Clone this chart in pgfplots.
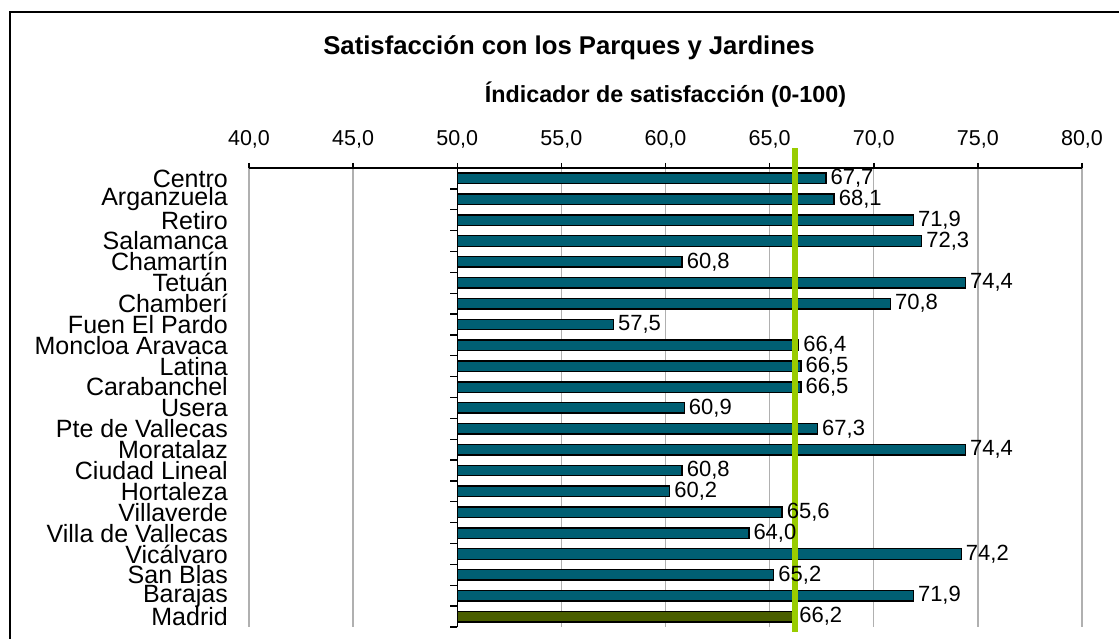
\documentclass[border=0pt]{standalone}
\usepackage{pgfplots}
\pgfplotsset{compat=1.18}
\usepackage{pgfplotstable}
\usepackage{fontspec}
\setmainfont{Liberation Sans}
\definecolor{barteal}{RGB}{0,95,115}
\definecolor{barolive}{RGB}{74,94,0}
\definecolor{avggreen}{RGB}{153,204,0}
\definecolor{gridgray}{RGB}{176,176,176}

\pgfplotstableread{
y v
21 67.7
20 68.1
19 71.9
18 72.3
17 60.8
16 74.4
15 70.8
14 57.5
13 66.4
12 66.5
11 66.5
10 60.9
9 67.3
8 74.4
7 60.8
6 60.2
5 65.6
4 64.0
3 74.2
2 65.2
1 71.9
}\districts
\pgfplotstableread{
y v
0 66.2
}\madrid
\pgfplotstableread{
y v
22.45 66.2
-0.74 66.2
}\avgline

\begin{document}
\begin{tikzpicture}[x=1pt,y=1pt]
\path[use as bounding box] (0,0) rectangle (1119,639);
\draw[line width=2pt] (10,-20) -- (10,627) -- (1140,627);
\node[font=\bfseries\fontsize{25.7}{30}\selectfont] at (569,591) {Satisfacción con los Parques y Jardines};
\node[font=\bfseries\fontsize{23.3}{28}\selectfont] at (665.5,544) {Índicador de satisfacción (0-100)};
\begin{axis}[
  at={(249pt,12pt)}, anchor=south west,
  scale only axis, width=833pt, height=459pt,
  xmin=-10, xmax=30, ymin=-0.5, ymax=21.5,
  axis x line=top, axis y line=left,
  x axis line style={-, line width=1.8pt},
  y axis line style={draw=none},
  clip=false,
  xtick={-10,-5,...,30},
  xticklabels={{40,0},{45,0},{50,0},{55,0},{60,0},{65,0},{70,0},{75,0},{80,0}},
  xtick style={line width=1.5pt, black},
  tick align=outside,
  major tick length=5pt,
  xticklabel style={font=\fontsize{21.5}{21.5}\selectfont, anchor=base, inner sep=0pt, yshift=17pt},
  xmajorgrids,
  major grid style={gridgray, line width=1.3pt},
  ytick={0,...,21},
  yticklabels={Madrid, Barajas, San Blas, Vicálvaro, Villa de Vallecas, Villaverde, Hortaleza, Ciudad Lineal, Moratalaz, Pte de Vallecas, Usera, Carabanchel, Latina, Moncloa Aravaca, Fuen El Pardo, Chamberí, Tetuán, Chamartín, Salamanca, Retiro, Arganzuela, Centro},
  ytick style={draw=none},
  yticklabel style={font=\fontsize{25}{25}\selectfont, anchor=east, inner sep=0pt, xshift=-16pt},
  /pgf/number format/fixed,
  /pgf/number format/fixed zerofill,
  /pgf/number format/precision=1,
  /pgf/number format/use comma,
  /pgf/number format/assume math mode=true,
  nodes near coords style={font=\fontsize{22}{22}\selectfont, anchor=west, inner sep=4pt, black},
]
\addplot[xbar, bar shift=0pt, bar width=10.5pt, fill=barteal, draw=black, line width=1.4pt,
  nodes near coords, point meta=explicit]
  table[x expr=\thisrow{v}-50, y=y, meta=v] {\districts};
\addplot[xbar, bar shift=0pt, bar width=10.5pt, fill=barolive, draw=black, line width=1.4pt,
  nodes near coords, point meta=explicit]
  table[x expr=\thisrow{v}-50, y=y, meta=v] {\madrid};
\draw[line width=1.3pt] (axis cs:0,-0.5) -- (axis cs:0,21.5);
\pgfplotsinvokeforeach{-0.5,0.5,...,21.5}{\draw[line width=1.3pt] (axis cs:0,#1) -- ([xshift=-7pt]axis cs:0,#1);}
\addplot[avggreen, line width=6pt] table[x expr=\thisrow{v}-50, y=y] {\avgline};
\end{axis}
\end{tikzpicture}
\end{document}
